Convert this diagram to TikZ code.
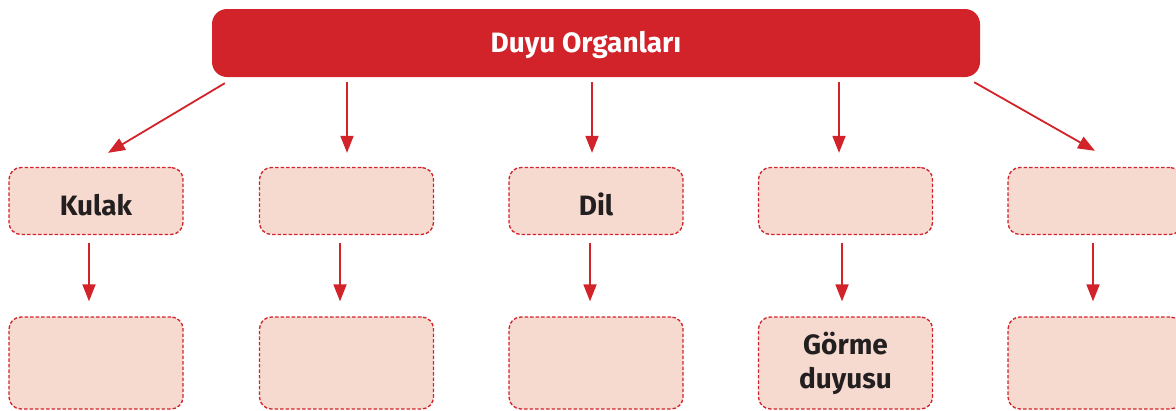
\documentclass[tikz,border=0pt]{standalone}
\usepackage{fontspec}
\setmainfont{Fira Sans}
\usetikzlibrary{arrows.meta,calc}
\definecolor{duyured}{HTML}{D2232A}
\definecolor{duyufill}{HTML}{F6DACF}
\definecolor{duyutext}{HTML}{231F20}
\tikzset{
  topbox/.style={fill=duyured, draw=none, rounded corners=15pt,
    minimum width=768pt, minimum height=68pt, inner sep=0pt},
  toptext/.style={text=white, inner sep=0pt,
    font=\fontsize{28}{34}\selectfont\bfseries, text height=19.5pt, text depth=0pt},
  organbox/.style={fill=duyufill, draw=duyured, line width=1.3pt,
    dash pattern=on 3.5pt off 2pt, rounded corners=12pt,
    minimum width=174pt, minimum height=67pt, inner sep=0pt, text=duyutext,
    font=\fontsize{28}{34}\selectfont\bfseries, text height=28pt, text depth=0pt},
  sensebox/.style={organbox, minimum height=92pt},
  twoline/.style={text height=, text depth=, align=center},
  arr/.style={draw=duyured, line width=1.8pt,
    -{Triangle[width=13pt,length=17pt]}},
}
\begin{document}
\begin{tikzpicture}[x=1pt,y=-1pt]
  \useasboundingbox (0,0) rectangle (1176,410);

  % title bar
  \node[topbox] (top) at (596,43) {};
  \node[toptext] (title) at (586,43) {Duyu Organları};

  % organs
  \node[organbox] (a1) at (96,201)    {Kulak};
  \node[organbox] (a2) at (346.5,201) {};
  \node[organbox] (a3) at (596,201)   {Dil};
  \node[organbox] (a4) at (845.5,201) {};
  \node[organbox] (a5) at (1095,201)  {};

  % senses
  \node[sensebox] (b1) at (96,363)    {};
  \node[sensebox] (b2) at (346.5,363) {};
  \node[sensebox] (b3) at (596,363)   {};
  \node[sensebox, twoline] (b4) at (845.5,363) {Görme\\duyusu};
  \node[sensebox] (b5) at (1095,363)  {};

  % title to organs
  \draw[arr] ($(top.south west)+(13,6)$) -- ($(a1.north)+(12,-14)$);
  \draw[arr] ($(top.south -| a2.north)+(0.5,5)$) -- ($(a2.north)+(0.5,-14)$);
  \draw[arr] ($(top.south -| a3.north)+(-4,5)$) -- ($(a3.north)+(-4,-14)$);
  \draw[arr] ($(top.south -| a4.north)+(-6.5,5)$) -- ($(a4.north)+(-6.5,-14)$);
  \draw[arr] ($(top.south east)+(-6,5)$) -- ($(a5.north)+(0,-16)$);

  % organs to senses
  \draw[arr] ($(a1.south)+(-7,7.5)$) -- ($(b1.north)+(-7,-15)$);
  \draw[arr] ($(a2.south)+(-6.5,7.5)$) -- ($(b2.north)+(-6.5,-15)$);
  \draw[arr] ($(a3.south)+(-6,7.5)$) -- ($(b3.north)+(-6,-15)$);
  \draw[arr] ($(a4.south)+(-3.5,7.5)$) -- ($(b4.north)+(-3.5,-15)$);
  \draw[arr] ($(a5.south)+(-2,7.5)$) -- ($(b5.north)+(-2,-15)$);
\end{tikzpicture}
\end{document}
